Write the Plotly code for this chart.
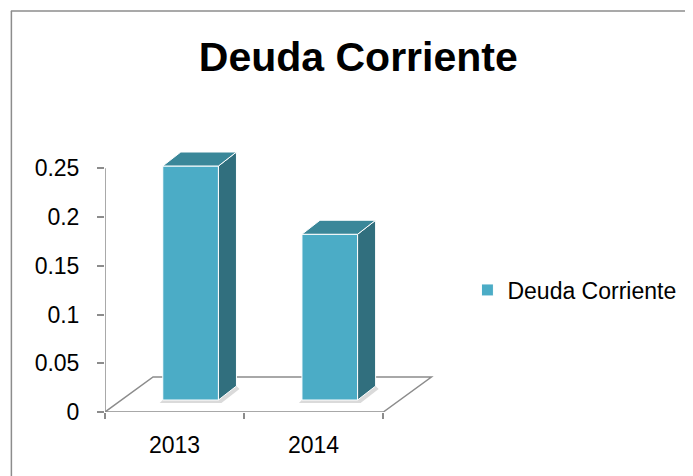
import plotly.graph_objects as go

# ---- data ----
categories = ["2013", "2014"]
values = [0.24, 0.17]
series_name = "Deuda Corriente"
title_text = "Deuda Corriente"
y_ticks = [0, 0.05, 0.1, 0.15, 0.2, 0.25]
y_tick_labels = ["0", "0.05", "0.1", "0.15", "0.2", "0.25"]

# ---- figure geometry (pixels, window coordinates; page has an 8px body margin) ----
OFF = 8
W, H = 693 - OFF, 476 - OFF
PX0, PX1 = 105 - OFF, 438.6 - OFF      # plot area x
PY0, PY1 = 139 - OFF, 412 - OFF        # plot area y (top, bottom)
X_RANGE = [-0.5, 1.9]
Y_RANGE = [0, 0.28]
xu = (PX1 - PX0) / (X_RANGE[1] - X_RANGE[0])   # px per x unit
yu = (PY1 - PY0) / (Y_RANGE[1] - Y_RANGE[0])   # px per y unit

# 3D depth offsets (in data units, derived from pixel offsets)
floor_dx, floor_dy = 48 / xu, 35 / yu
bar_dx, bar_dy = 16 / xu, 12 / yu
side_dx, side_dy = 18 / xu, 14 / yu
bar_w = 0.40

FRONT = "#4BACC6"
SIDE = "#316F7E"
TOP = "#3A8799"
GRID = "#8C8C8C"
FONT = "Liberation Sans, Arial, sans-serif"

xpos = list(range(len(categories)))
bar_x = [x + bar_dx for x in xpos]
n = len(categories)


def px_to_paper_x(p):
    return (p - OFF - PX0) / (PX1 - PX0)


def px_to_paper_y(p):
    return (PY1 - (p - OFF)) / (PY1 - PY0)


fig = go.Figure()

# front faces of the bars
fig.add_trace(go.Bar(
    x=bar_x, y=values, base=[bar_dy] * n, width=bar_w,
    marker=dict(color=FRONT, line=dict(color="white", width=1)),
    name=series_name, showlegend=True, hoverinfo="skip",
))

# side and top faces
for bx, v in zip(bar_x, values):
    top = bar_dy + v
    xr = bx + bar_w / 2
    xl = bx - bar_w / 2
    fig.add_trace(go.Scatter(
        x=[xr, xr, xr + side_dx, xr + side_dx, xr],
        y=[bar_dy, top, top + side_dy, bar_dy + side_dy, bar_dy],
        fill="toself", fillcolor=SIDE, mode="lines",
        line=dict(color="white", width=1), showlegend=False, hoverinfo="skip",
    ))
    fig.add_trace(go.Scatter(
        x=[xl, xr, xr + side_dx, xl + side_dx, xl],
        y=[top, top, top + side_dy, top + side_dy, top],
        fill="toself", fillcolor=TOP, mode="lines",
        line=dict(color="white", width=1), showlegend=False, hoverinfo="skip",
    ))

shapes = []
# floor
fx0, fx1 = -0.5, n - 0.5
shapes.append(dict(
    type="path", xref="x", yref="y", layer="below",
    path=f"M {fx0},0 L {fx1},0 L {fx1 + floor_dx},{floor_dy} L {fx0 + floor_dx},{floor_dy} Z",
    fillcolor="white", line=dict(color=GRID, width=1.5),
))
# soft shadows under bars
sh = 3 / yu
shx = 3 / xu
for bx in bar_x:
    xl = bx - bar_w / 2
    xr = bx + bar_w / 2
    shapes.append(dict(
        type="path", xref="x", yref="y", layer="below",
        path=(f"M {xl - shx},{bar_dy - sh} L {xr + shx},{bar_dy - sh} "
              f"L {xr + side_dx + shx},{bar_dy + side_dy - sh} L {xr + side_dx},{bar_dy + side_dy} "
              f"L {xl},{bar_dy} Z"),
        fillcolor="#DADADA", line=dict(width=0),
    ))
# y axis line
shapes.append(dict(type="line", xref="x", yref="y", x0=fx0, x1=fx0, y0=0, y1=y_ticks[-1],
                   line=dict(color=GRID, width=1.5)))
# outer chart frame (left and top edges)
shapes.append(dict(type="line", xref="paper", yref="paper",
                   x0=px_to_paper_x(11.5), x1=px_to_paper_x(11.5),
                   y0=px_to_paper_y(11), y1=px_to_paper_y(480),
                   line=dict(color=GRID, width=1.5)))
shapes.append(dict(type="line", xref="paper", yref="paper",
                   x0=px_to_paper_x(11), x1=px_to_paper_x(700),
                   y0=px_to_paper_y(11), y1=px_to_paper_y(11),
                   line=dict(color=GRID, width=1.5)))

annotations = []
for x, c in zip(xpos, categories):
    annotations.append(dict(x=x, y=px_to_paper_y(445), xref="x", yref="paper",
                            text=c, showarrow=False, xanchor="center", yanchor="middle",
                            font=dict(family=FONT, size=23, color="#000000")))

fig.update_layout(
    width=W, height=H,
    margin=dict(l=PX0, r=W - PX1, t=PY0, b=H - PY1),
    paper_bgcolor="white", plot_bgcolor="white",
    title=dict(text=f"<b>{title_text}</b>", x=px_to_paper_x(358), xref="paper", xanchor="center",
               y=1 - (57 - OFF) / H, yref="container", yanchor="middle",
               font=dict(family=FONT, size=41, color="#000000")),
    xaxis=dict(range=X_RANGE, showgrid=False, zeroline=False, showline=False,
               tickvals=[fx0 + i for i in range(n + 1)], ticktext=[""] * (n + 1),
               ticks="outside", ticklen=6, tickcolor=GRID, tickwidth=1.5, fixedrange=True),
    yaxis=dict(range=Y_RANGE, showgrid=False, zeroline=False, showline=False,
               tickvals=y_ticks, ticktext=y_tick_labels,
               ticks="outside", ticklen=7, tickcolor=GRID, tickwidth=1.5,
               ticklabelstandoff=13,
               tickfont=dict(family=FONT, size=23, color="#000000"), fixedrange=True),
    legend=dict(x=px_to_paper_x(467), y=px_to_paper_y(290), xanchor="left", yanchor="middle",
                font=dict(family=FONT, size=23, color="#000000"), bgcolor="rgba(0,0,0,0)"),
    shapes=shapes, annotations=annotations,
    barmode="overlay", showlegend=True,
)

fig.write_html("out.html")
